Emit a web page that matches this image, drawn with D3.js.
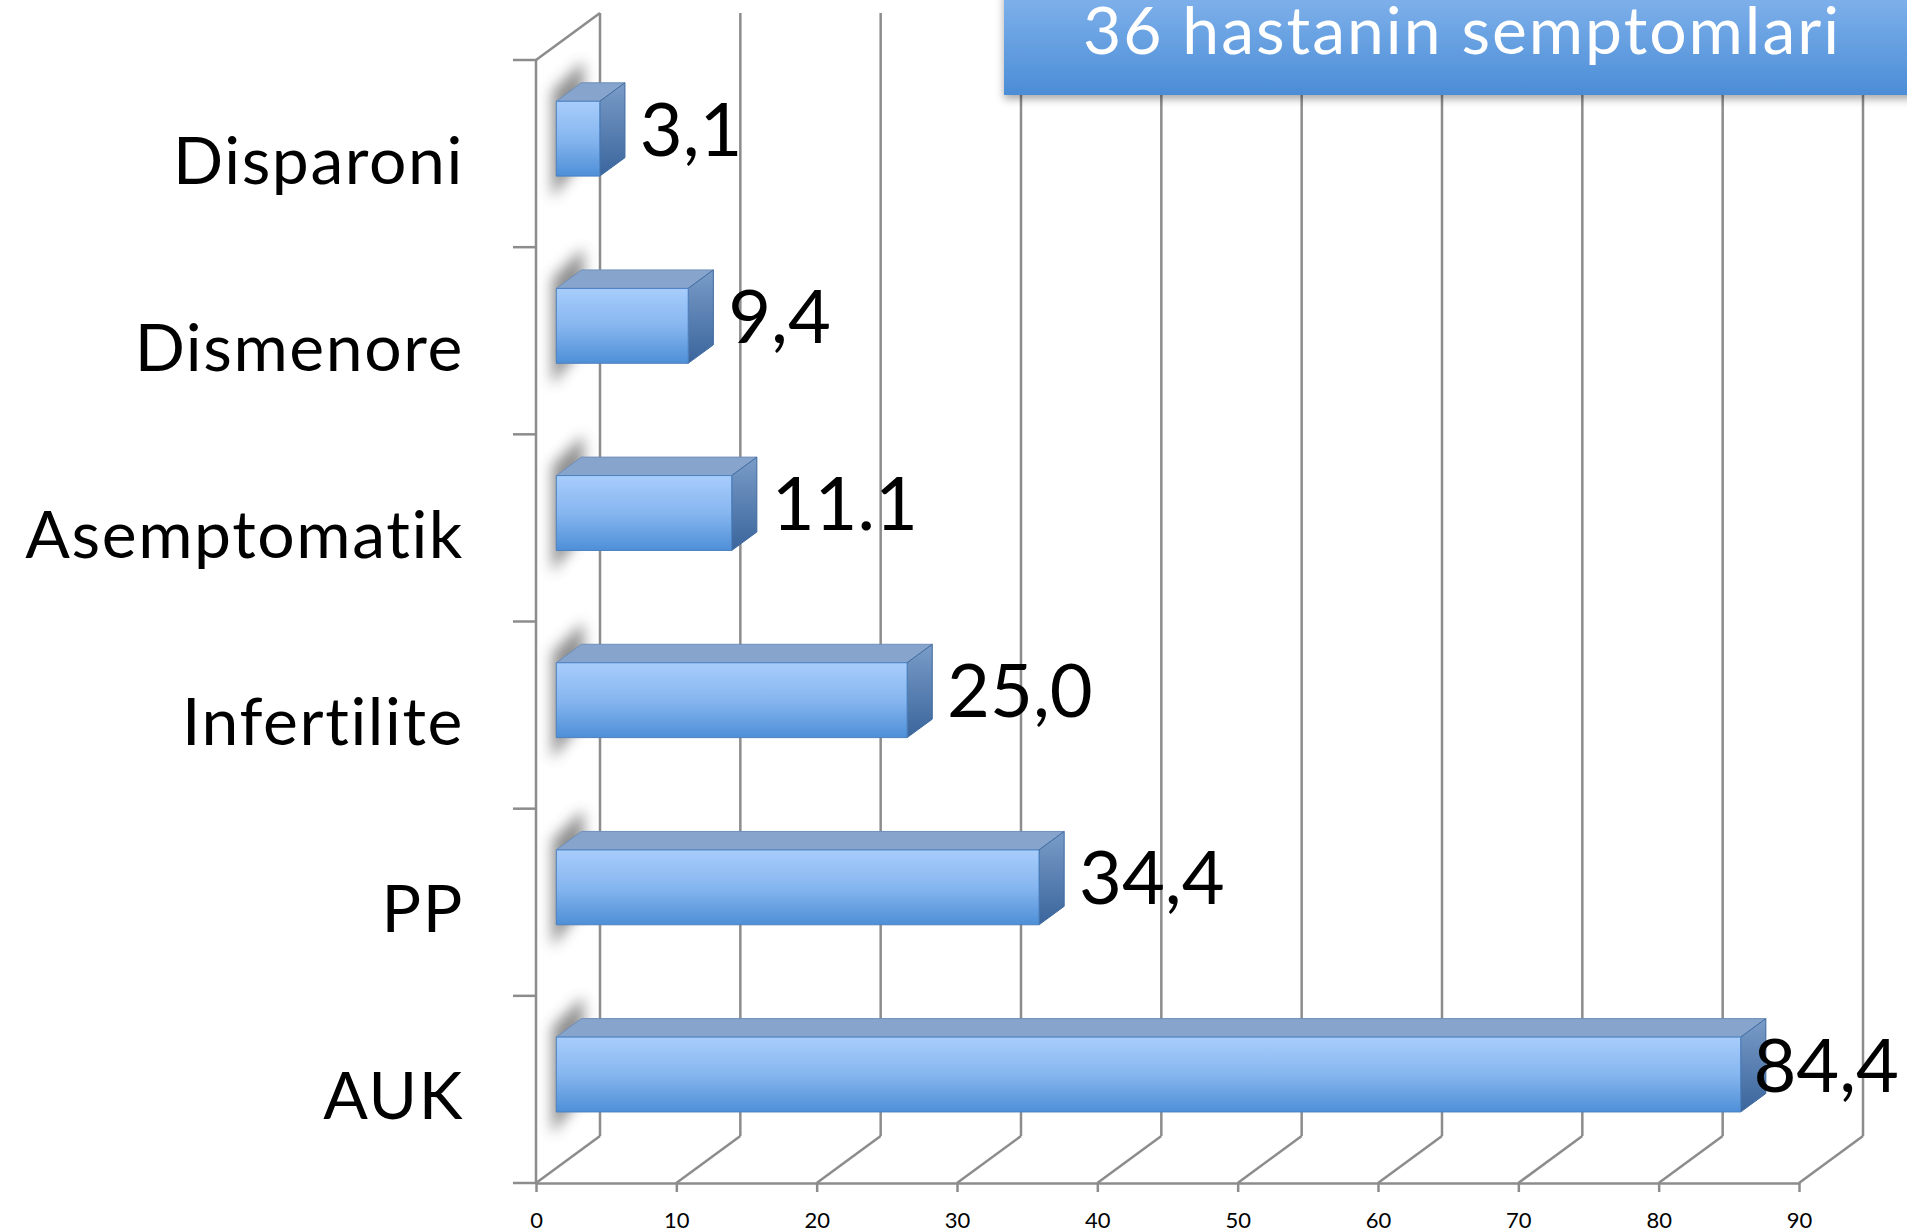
<!DOCTYPE html>
<html>
<head>
<meta charset="utf-8">
<script src="https://cdn.jsdelivr.net/npm/d3@7"></script>
<style>
  body { margin: 0; background: #fff; }
  svg text { font-family: Lato, 'Open Sans', sans-serif; }
</style>
</head>
<body>
<script>
// chart data
var categories = ['Disparoni', 'Dismenore', 'Asemptomatik', 'Infertilite', 'PP', 'AUK']
var barValues = [3.1, 9.4, 12.5, 25.0, 34.4, 84.4]
var valueLabels = ['3,1', '9,4', '11.1', '25,0', '34,4', '84,4']
var xTicks = [0, 10, 20, 30, 40, 50, 60, 70, 80, 90]
var title = '36 hastanin semptomlari'

var W = 1907, H = 1232
var svg = d3.select('body').append('svg').attr('width', W).attr('height', H)

// 3d frame: front wall / floor corner and the depth vector
var ox = 536, floorY = 1183, wallTop = 60
var depth = [64, -47]
var d0 = 0.317, d1 = 0.71   // bar sits between these depths
var gridColor = '#8c8c8c'

var x = d3.scaleLinear().domain([0, 90]).range([0, 1263])
var y = d3.scaleBand().domain(categories).range([wallTop, floorY])
  .paddingInner(0.6).paddingOuter(0.3)

function pt(v, yy, d){ return [ox + x(v) + depth[0] * d, yy + depth[1] * d] }
function poly(pts){ return pts.map(function(p){ return p.join(',') }).join(' ') }

var defs = svg.append('defs')
function vgrad(id, stops){
  var g = defs.append('linearGradient').attr('id', id)
    .attr('x1', 0).attr('y1', 0).attr('x2', 0).attr('y2', 1)
  stops.forEach(function(s){ g.append('stop').attr('offset', s[0]).attr('stop-color', s[1]) })
}
vgrad('front', [[0, '#a8cdfc'], [0.5, '#86b6ef'], [1, '#4e8fd7']])
vgrad('side', [[0, '#7a9cc8'], [1, '#3a659c']])
vgrad('titleFill', [[0, '#82b3ec'], [1, '#4b8dd6']])

defs.append('filter').attr('id', 'blur')
  .attr('x', '-100%').attr('y', '-50%').attr('width', '300%').attr('height', '200%')
  .append('feGaussianBlur').attr('stdDeviation', 7)

var ds = defs.append('filter').attr('id', 'drop')
  .attr('x', '-10%').attr('y', '-20%').attr('width', '120%').attr('height', '160%')
ds.append('feDropShadow').attr('dx', 0).attr('dy', 4).attr('stdDeviation', 4)
  .attr('flood-color', '#000').attr('flood-opacity', 0.35)

// gridlines: floor diagonals + back wall verticals
var grid = svg.append('g').attr('stroke', gridColor).attr('stroke-width', 2.5).attr('fill', 'none')
xTicks.forEach(function(v){
  var f = pt(v, floorY, 0), b = pt(v, floorY, 1), t = pt(v, wallTop, 1)
  grid.append('line').attr('x1', f[0]).attr('y1', f[1]).attr('x2', b[0]).attr('y2', b[1])
  grid.append('line').attr('x1', b[0]).attr('y1', b[1]).attr('x2', b[0]).attr('y2', t[1])
})

// left wall
var wt0 = pt(0, wallTop, 0), wt1 = pt(0, wallTop, 1)
grid.append('line').attr('x1', ox).attr('y1', wallTop).attr('x2', ox).attr('y2', floorY)
grid.append('line').attr('x1', wt0[0]).attr('y1', wt0[1]).attr('x2', wt1[0]).attr('y2', wt1[1])
var bounds = categories.map(function(c){ return y(c) - y.step() * y.paddingInner() / 2 })
bounds[0] = wallTop
bounds.push(floorY)
bounds.forEach(function(b){
  grid.append('line').attr('x1', ox - 23).attr('y1', b).attr('x2', ox).attr('y2', b)
})

// x axis along the front of the floor
var axis = svg.append('g').attr('transform', 'translate(' + ox + ',' + floorY + ')')
  .call(d3.axisBottom(x).tickValues(xTicks).tickSize(9).tickSizeOuter(0).tickPadding(20))
axis.selectAll('path, line').attr('stroke', gridColor).attr('stroke-width', 2.5)
axis.selectAll('text').attr('font-size', 22).attr('fill', '#000')
  .style('font-family', 'Lato, sans-serif')

// bars
var bars = svg.append('g')
categories.forEach(function(c, i){
  var v = barValues[i]
  var y0 = y(c), y1 = y(c) + y.bandwidth()

  // soft shadow on the wall behind the bar end
  var sf = pt(0, y0, d0), sb = pt(0, y0, d1), bf = pt(0, y1, d0), bb = pt(0, y1, d1)
  bars.append('polygon')
    .attr('points', poly([[sf[0] - 4, sf[1] - 10], [sb[0] + 2, sb[1] - 22], [bb[0] + 2, bb[1]], [bf[0] - 4, bf[1] + 22]]))
    .attr('fill', '#444').attr('opacity', 0.6).attr('filter', 'url(#blur)')

  bars.append('polygon')
    .attr('points', poly([pt(0, y0, d0), pt(0, y0, d1), pt(v, y0, d1), pt(v, y0, d0)]))
    .attr('fill', '#86a4cc').attr('stroke', '#6f8fba').attr('stroke-width', 1)
  bars.append('polygon')
    .attr('points', poly([pt(v, y0, d0), pt(v, y0, d1), pt(v, y1, d1), pt(v, y1, d0)]))
    .attr('fill', 'url(#side)').attr('stroke', '#3f6a9f').attr('stroke-width', 1)
  bars.append('polygon')
    .attr('points', poly([pt(0, y0, d0), pt(v, y0, d0), pt(v, y1, d0), pt(0, y1, d0)]))
    .attr('fill', 'url(#front)').attr('stroke', '#4a80c0').attr('stroke-width', 1)
})

// category labels
svg.append('g').selectAll('text').data(categories).join('text')
  .attr('x', 464)
  .attr('y', function(c){ return y(c) + y.bandwidth() / 2 + 30 })
  .attr('text-anchor', 'end')
  .attr('font-size', 66)
  .attr('letter-spacing', 1.6)
  .attr('fill', '#000')
  .text(function(c){ return c })

// value labels
var vl = svg.append('g')
categories.forEach(function(c, i){
  var end = pt(barValues[i], y(c) + y.bandwidth() / 2, d0)
  var t = vl.append('text').attr('font-size', 74).attr('fill', '#000').text(valueLabels[i])
  var tw = t.node().getComputedTextLength()
  t.attr('x', Math.min(end[0] + 40, W - tw - 8)).attr('y', end[1] - 10 + 27)
})

// title box
var tb = svg.append('g')
tb.append('rect').attr('x', 1004).attr('y', -10).attr('width', 930).attr('height', 105)
  .attr('fill', 'url(#titleFill)').attr('filter', 'url(#drop)')
tb.append('text').attr('x', 1462).attr('y', 54).attr('text-anchor', 'middle')
  .attr('font-size', 66).attr('letter-spacing', 2).attr('fill', '#fff').text(title)
</script>
</body>
</html>
